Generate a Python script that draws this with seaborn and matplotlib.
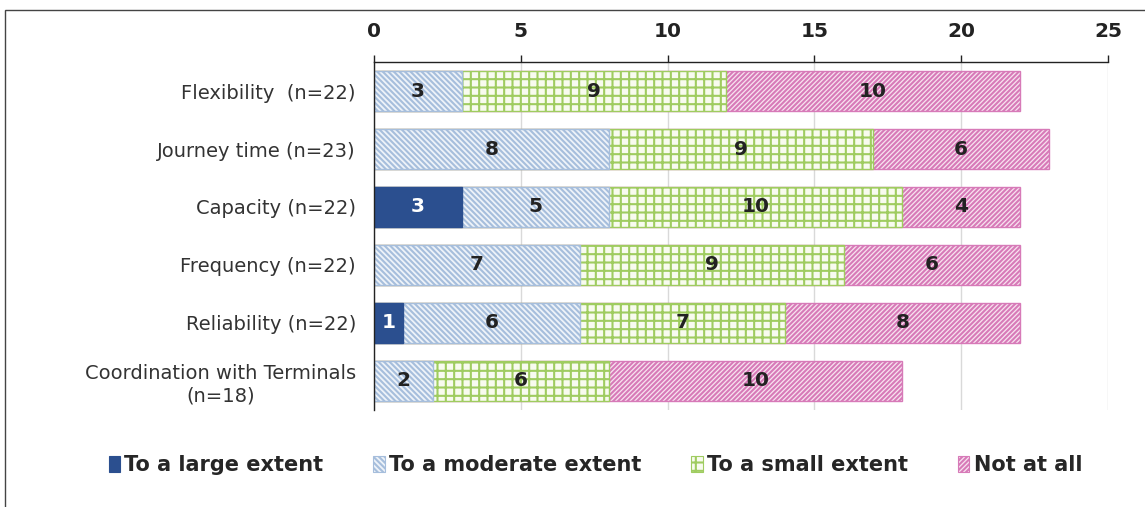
import seaborn as sns
import numpy as np
import pandas as pd
import matplotlib.pyplot as plt
from matplotlib.patches import Patch, Rectangle

# data
categories = ["Flexibility  (n=22)", "Journey time (n=23)", "Capacity (n=22)",
              "Frequency (n=22)", "Reliability (n=22)",
              "Coordination with Terminals\n(n=18)"]
large = [0, 0, 3, 0, 1, 0]
moderate = [3, 8, 5, 7, 6, 2]
small = [9, 9, 10, 9, 7, 6]
not_at_all = [10, 6, 4, 6, 8, 10]
series_names = ["To a large extent", "To a moderate extent", "To a small extent", "Not at all"]
x_ticks = [0, 5, 10, 15, 20, 25]

sns.set_theme(style="white")
plt.rcParams['font.family'] = ['DejaVu Sans']
plt.rcParams['hatch.linewidth'] = 1.5

df = pd.DataFrame({"cat": categories, "large": large, "moderate": moderate,
                   "small": small, "not_at_all": not_at_all})
df["c1"] = df["large"]
df["c2"] = df["c1"] + df["moderate"]
df["c3"] = df["c2"] + df["small"]
df["c4"] = df["c3"] + df["not_at_all"]

# style per series: face, hatch colour, hatch
styles = {
    "To a large extent": ("#2B4F8F", "#2B4F8F", None),
    "To a moderate extent": ("#EEF3F9", "#A6BEDC", "\\" * 6),
    "To a small extent": ("#F8FBEF", "#9FCC60", "++"),
    "Not at all": ("#F8E3F0", "#D77AB8", "/" * 7),
}

fig = plt.figure(figsize=(11.45, 5.07), dpi=100)
ax = fig.add_axes([374 / 1145, 1 - 410 / 507, (1108 - 374) / 1145, (410 - 62) / 507])

# stacked bars: draw cumulative totals from the longest to the shortest
for col, name in [("c4", "Not at all"), ("c3", "To a small extent"),
                  ("c2", "To a moderate extent"), ("c1", "To a large extent")]:
    face, edge, hatch = styles[name]
    n0 = len(ax.patches)
    sns.barplot(data=df, x=col, y="cat", orient="h", color=face, width=0.69,
                saturation=1, ax=ax)
    for p in ax.patches[n0:]:
        p.set_facecolor(face)
        p.set_edgecolor(edge)
        p.set_linewidth(1.0 if p.get_width() > 0 else 0)
        if hatch:
            p.set_hatch(hatch)

# value labels
for i, row in df.iterrows():
    left = 0
    for key, color in [("large", "white"), ("moderate", "#222222"),
                       ("small", "#222222"), ("not_at_all", "#222222")]:
        v = row[key]
        if v > 0:
            ax.text(left + v / 2, i, str(v), ha="center", va="center",
                    fontsize=14.5, fontweight="bold", color=color)
        left += v

ax.set_xlim(0, 25)
ax.set_ylim(5.5, -0.5)
ax.set_xticks(x_ticks)
ax.xaxis.tick_top()
ax.tick_params(axis="x", which="major", direction="out", length=5, width=1,
               color="#222222", labelsize=14.5, pad=10, labelcolor="#222222")
for lab in ax.get_xticklabels():
    lab.set_fontweight("bold")
ax.set_yticks(range(len(categories)))
ax.set_yticklabels(categories, fontsize=14, multialignment="center", color="#333333")
ax.tick_params(axis="y", which="major", length=0, pad=13)
ax.set_yticks(np.arange(-0.5, 6, 1), minor=True)
ax.tick_params(axis="y", which="minor", direction="out", length=5, width=1, color="#222222")
ax.set_xlabel("")
ax.set_ylabel("")
ax.grid(axis="x", color="#D9D9D9", linewidth=1)
ax.set_axisbelow(True)
for s in ["right", "bottom"]:
    ax.spines[s].set_visible(False)
for s in ["top", "left"]:
    ax.spines[s].set_color("#222222")
    ax.spines[s].set_linewidth(1)

handles = []
for name in series_names:
    face, edge, hatch = styles[name]
    handles.append(Patch(facecolor=face, edgecolor=edge, hatch=hatch, linewidth=0.8))
fig.legend(handles, series_names, loc="center", bbox_to_anchor=(0.52, 1 - 465 / 507),
           ncol=4, frameon=False, handlelength=0.55, handleheight=0.8,
           handletextpad=0.2, columnspacing=2.4,
           prop={"weight": "bold", "size": 15})

# outer frame (top and left visible)
fig.patches.append(Rectangle((5 / 1145, -0.2), 1.3, 1.2 - 10 / 507,
                             transform=fig.transFigure, fill=False,
                             edgecolor="#444444", linewidth=1))

fig.savefig("out.png", dpi=100)
